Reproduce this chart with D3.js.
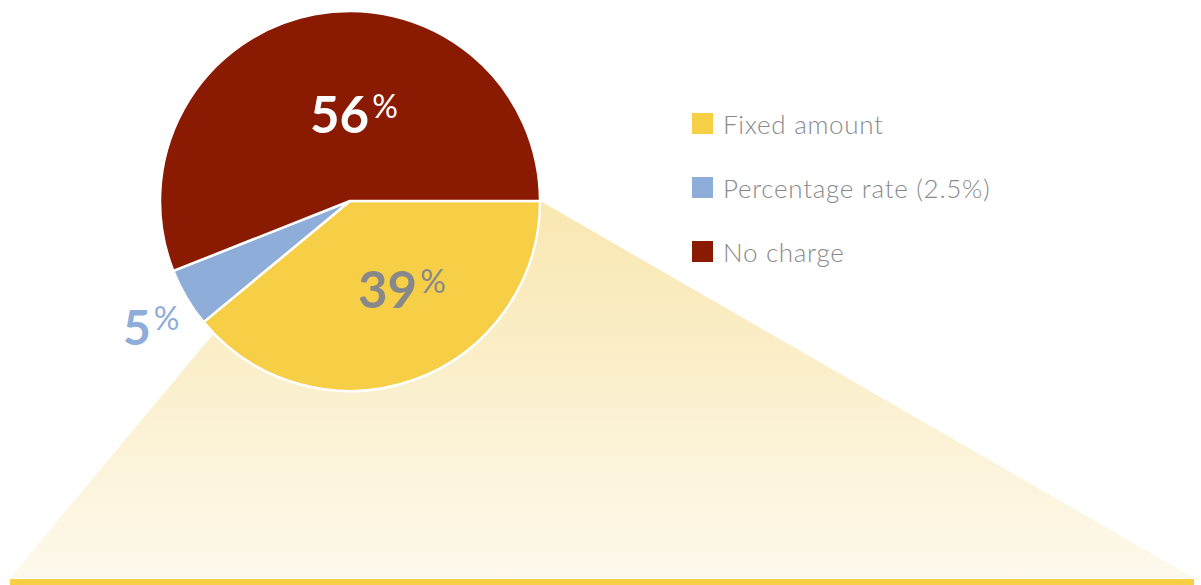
<!DOCTYPE html>
<html>
<head>
<meta charset="utf-8">
<script src="https://cdn.jsdelivr.net/npm/d3@7"></script>
<style>
  html, body { margin: 0; padding: 0; background: #fff; }
  svg { display: block; font-family: Lato, "Open Sans", sans-serif; }
</style>
</head>
<body>
<script>
// chart values
const categories = ["Fixed amount", "Percentage rate (2.5%)", "No charge"];
const shares = [39, 5, 56];
const sliceColors = ["#f6cf47", "#8eadd9", "#8b1a02"];
const labelColors = ["#88888a", "#8eadd9", "#ffffff"];

const width = 1201, height = 585;
const cx = 350, cy = 201, r = 190;

const svg = d3.select("body").append("svg")
    .attr("width", width)
    .attr("height", height);

// gradient for the "zoom out" wedge
const defs = svg.append("defs");
const grad = defs.append("linearGradient")
    .attr("id", "wedge")
    .attr("gradientUnits", "userSpaceOnUse")
    .attr("x1", 0).attr("y1", cy)
    .attr("x2", 0).attr("y2", 578);
grad.append("stop").attr("offset", "0%").attr("stop-color", "#f9e7b0");
grad.append("stop").attr("offset", "100%").attr("stop-color", "#fdf9ec");

const pie = d3.pie()
    .sort(null)
    .value(d => d)
    .startAngle(Math.PI / 2)
    .endAngle(Math.PI / 2 + 2 * Math.PI);

const arcs = pie(shares);

// wedge that fans out of the fixed amount slice
const fixed = arcs[0];
const edge = a => [cx + Math.sin(a) * r, cy - Math.cos(a) * r];
const topRight = edge(fixed.startAngle);
const topLeft = [cx - 130, cy + 125];
svg.append("path")
    .attr("d", d3.line()([[topRight[0] + 2, topRight[1] + 1], [1194, 578], [10, 578], topLeft]) + "Z")
    .attr("fill", "url(#wedge)");

svg.append("rect")
    .attr("x", 10).attr("y", 579)
    .attr("width", 1184).attr("height", 6)
    .attr("fill", "#f6cf47");

const arc = d3.arc().innerRadius(0).outerRadius(r);

const g = svg.append("g").attr("transform", `translate(${cx},${cy})`);
g.selectAll("path.slice")
    .data(arcs)
    .join("path")
    .attr("class", "slice")
    .attr("d", arc)
    .attr("fill", (d, i) => sliceColors[i])
    .attr("stroke", "#fff")
    .attr("stroke-width", 2.5)
    .attr("stroke-linejoin", "round");

// percentage labels (offsets from the pie centre)
const labelOffset = [[8, 107], [-227, 144], [-40, -68]];
arcs.forEach((d, i) => {
    const t = svg.append("text")
        .attr("x", cx + labelOffset[i][0])
        .attr("y", cy + labelOffset[i][1])
        .attr("fill", labelColors[i])
        .attr("font-weight", 700)
        .attr("font-size", i === 1 ? 48 : 51);
    t.append("tspan").text(d.data);
    t.append("tspan")
        .attr("font-size", 32)
        .attr("font-weight", 400)
        .attr("dx", 3)
        .attr("dy", -15)
        .text("%");
});

// legend
const legend = svg.append("g").attr("transform", "translate(692,113)");
const rows = legend.selectAll("g")
    .data(categories)
    .join("g")
    .attr("transform", (d, i) => `translate(0,${i * 64})`);
rows.append("rect")
    .attr("width", 21).attr("height", 21)
    .attr("fill", (d, i) => sliceColors[i]);
rows.append("text")
    .attr("x", 31)
    .attr("y", 21)
    .attr("font-size", 26)
    .attr("font-weight", 300)
    .attr("letter-spacing", 0.7)
    .attr("fill", "#8a8a8c")
    .text(d => d);
</script>
</body>
</html>
